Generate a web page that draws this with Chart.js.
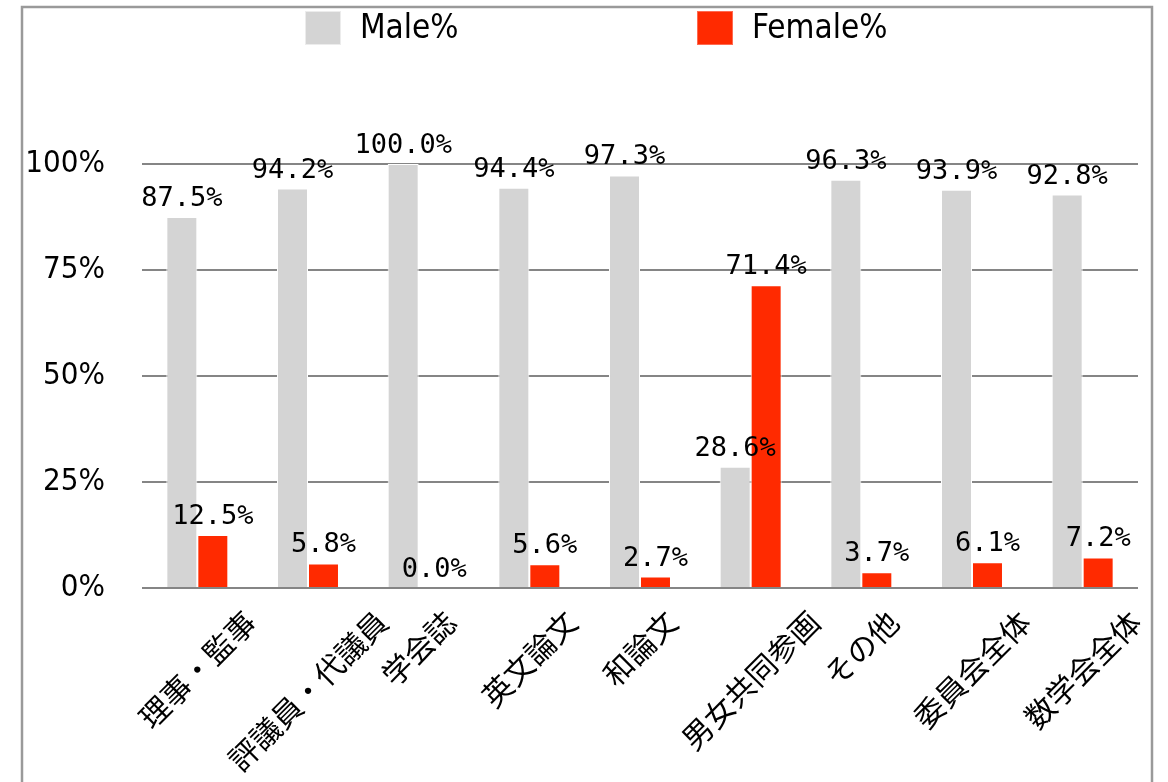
<!DOCTYPE html>
<html>
<head>
<meta charset="utf-8">
<script src="https://cdn.jsdelivr.net/npm/chart.js@4/dist/chart.umd.min.js"></script>
<style>
  html, body { margin: 0; padding: 0; background: #fff; }
  #wrap { position: relative; width: 1168px; height: 782px; }
  canvas { display: block; }
</style>
</head>
<body>
<div id="wrap"><canvas id="c" width="1168" height="782"></canvas></div>
<script>
// Share of men and women by role
const categories = ['理事・監事', '評議員・代議員', '学会誌', '英文論文', '和論文', '男女共同参画', 'その他', '委員会全体', '数学会全体'];
const maleValues = [87.5, 94.2, 100.0, 94.4, 97.3, 28.6, 96.3, 93.9, 92.8];
const femaleValues = [12.5, 5.8, 0.0, 5.6, 2.7, 71.4, 3.7, 6.1, 7.2];
const seriesNames = ['Male%', 'Female%'];
const yTickValues = [0, 25, 50, 75, 100];

const MALE_COLOR = '#d4d4d4';
const FEMALE_COLOR = '#ff2a00';
const GRID_COLOR = '#858585';
const SANS = '"DejaVu Sans Condensed", "DejaVu Sans", sans-serif';
const MONO = '"DejaVu Sans Mono", monospace';
const CJK = '"Noto Sans CJK JP", sans-serif';

// Outer frame, drawn beneath everything else
const framePlugin = {
  id: 'frame',
  beforeDraw(chart) {
    const ctx = chart.ctx;
    ctx.save();
    ctx.fillStyle = '#ffffff';
    ctx.fillRect(0, 0, chart.width, chart.height);
    ctx.strokeStyle = '#9a9a9a';
    ctx.lineWidth = 2.5;
    ctx.strokeRect(22, 7, 1130, 820);
    ctx.restore();
  }
};

// Legend row across the top
const legendPlugin = {
  id: 'topLegend',
  afterDraw(chart) {
    const ctx = chart.ctx;
    const slots = [{box: 305, text: 360}, {box: 697, text: 752}];
    ctx.save();
    ctx.font = '33px ' + SANS;
    ctx.textBaseline = 'middle';
    ctx.textAlign = 'left';
    chart.data.datasets.forEach((ds, i) => {
      const s = slots[i];
      ctx.fillStyle = ds.backgroundColor;
      ctx.fillRect(s.box, 11, 36, 34);
      ctx.strokeStyle = i === 0 ? '#ececec' : '#ff6a50';
      ctx.lineWidth = 1;
      ctx.strokeRect(s.box + 0.5, 11.5, 35, 33);
      ctx.fillStyle = '#000';
      ctx.fillText(ds.label, s.text, 29);
    });
    ctx.restore();
  }
};

// Value labels above each bar
const valueLabelPlugin = {
  id: 'valueLabels',
  afterDatasetsDraw(chart) {
    const ctx = chart.ctx;
    ctx.save();
    ctx.font = '27px ' + MONO;
    ctx.fillStyle = '#000';
    ctx.textAlign = 'center';
    ctx.textBaseline = 'alphabetic';
    chart.data.datasets.forEach((ds, di) => {
      const meta = chart.getDatasetMeta(di);
      meta.data.forEach((bar, i) => {
        ctx.fillText(ds.data[i].toFixed(1) + '%', bar.x, bar.y - 11);
      });
    });
    ctx.restore();
  }
};

// Category names, rotated 45° about their own centre under each group
const categoryLabelPlugin = {
  id: 'categoryLabels',
  afterDraw(chart) {
    const ctx = chart.ctx;
    const xScale = chart.scales.x;
    const size = 30;
    const k = Math.SQRT1_2;
    ctx.save();
    ctx.font = size + 'px ' + CJK;
    ctx.fillStyle = '#000';
    ctx.textAlign = 'center';
    ctx.textBaseline = 'middle';
    chart.data.labels.forEach((label, i) => {
      const w = ctx.measureText(label).width;
      const cx = xScale.getPixelForValue(i);
      const cy = chart.chartArea.bottom + 18 + k * (w + size) / 2;
      ctx.save();
      ctx.translate(cx, cy);
      ctx.rotate(-Math.PI / 4);
      ctx.fillText(label, 0, 0);
      ctx.restore();
    });
    ctx.restore();
  }
};

new Chart(document.getElementById('c'), {
  type: 'bar',
  data: {
    labels: categories,
    datasets: [
      {
        label: seriesNames[0],
        data: maleValues,
        backgroundColor: MALE_COLOR,
        borderColor: '#ffffff',
        borderWidth: 1,
        borderSkipped: 'bottom'
      },
      {
        label: seriesNames[1],
        data: femaleValues,
        backgroundColor: FEMALE_COLOR,
        borderColor: '#ffffff',
        borderWidth: 1,
        borderSkipped: 'bottom'
      }
    ]
  },
  options: {
    responsive: false,
    animation: false,
    devicePixelRatio: 1,
    layout: { padding: { top: 164, bottom: 194, left: 0, right: 30 } },
    datasets: { bar: { categoryPercentage: 0.56, barPercentage: 1.0 } },
    plugins: {
      legend: { display: false },
      tooltip: { enabled: false }
    },
    scales: {
      x: {
        display: false,
        grid: { display: false }
      },
      y: {
        min: 0,
        max: 100,
        afterFit(scale) { scale.width = 142; },
        afterBuildTicks(scale) { scale.ticks = yTickValues.map(v => ({ value: v })); },
        border: { display: false },
        grid: { color: GRID_COLOR, lineWidth: 2, drawTicks: false },
        ticks: {
          padding: 37,
          color: '#000',
          font: { family: SANS, size: 31 },
          callback: (v) => v + '%'
        }
      }
    }
  },
  plugins: [framePlugin, valueLabelPlugin, categoryLabelPlugin, legendPlugin]
});
</script>
</body>
</html>
